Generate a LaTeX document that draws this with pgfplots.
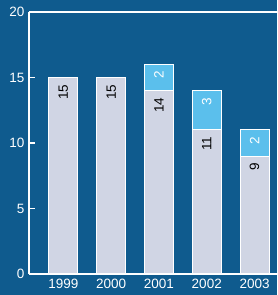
\documentclass[border=0pt]{standalone}
\usepackage{pgfplots}
\pgfplotsset{compat=1.18}
\usepackage{fontspec}
\setmainfont{Liberation Sans}
\definecolor{bg}{HTML}{0F5B8E}
\definecolor{barlo}{HTML}{D0D5E4}
\definecolor{barhi}{HTML}{5BBFEC}
\begin{document}
\fontsize{13.5}{16}\selectfont
\begin{tikzpicture}
\fill[bg] (0,0) rectangle (277pt,295pt);
\begin{axis}[at={(29pt,21pt)}, anchor=south west, scale only axis,
  width=248pt, height=262pt,
  xmin=-0.72, xmax=4.47, ymin=0, ymax=20,
  ybar stacked, bar width=29pt,
  axis x line*=box, axis y line*=left,
  axis line style={white, line width=1.3pt},
  ytick={0,5,10,15,20}, tick align=inside, major tick length=6pt,
  ytick style={white, line width=1.3pt},
  xtick={0,1,2,3,4}, xticklabels={1999,2000,2001,2002,2003},
  xtick style={draw=none},
  tick label style={white, font=\fontsize{13.5}{16}\selectfont},
  /pgf/number format/assume math mode=true,
  point meta=explicit,
  visualization depends on={\thisrow{y} \as \segval},
  nodes near coords={\pgfmathfloatifflags{\pgfplotspointmeta}{0}{}{\pgfmathprintnumber{\pgfplotspointmeta}}},
  nodes near coords style={yshift={\segval*6.55pt}, rotate=90, anchor=east, inner sep=6.5pt, font=\fontsize{13.5}{16}\selectfont},
]
\addplot[fill=barlo, draw=white, line width=1pt, every node near coord/.append style={text=black}]
  table[x=x, y=y, meta=y] {
x y
0 15
1 15
2 14
3 11
4 9
};
\addplot[fill=barhi, draw=white, line width=1pt, every node near coord/.append style={text=white}]
  table[x=x, y=y, meta=y] {
x y
0 0
1 0
2 2
3 3
4 2
};
\end{axis}
\pgfresetboundingbox
\path[use as bounding box] (0,0) rectangle (277pt,295pt);
\end{tikzpicture}
\end{document}
